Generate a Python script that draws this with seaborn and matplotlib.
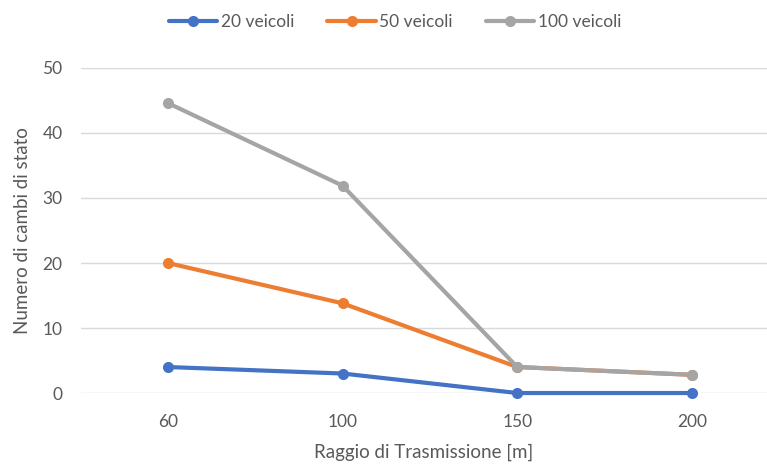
import matplotlib
matplotlib.use("Agg")
import matplotlib.pyplot as plt
import seaborn as sns
import pandas as pd

categories = ["60", "100", "150", "200"]
series_names = ["20 veicoli", "50 veicoli", "100 veicoli"]
v20 = [4.0, 3.0, 0.0, 0.0]
v50 = [20.0, 13.8, 4.0, 2.8]
v100 = [44.6, 31.9, 4.0, 2.8]
colors = ["#4472C4", "#ED7D31", "#A5A5A5"]

sns.set_theme(style="white")
plt.rcParams['font.family'] = ['Lato', 'DejaVu Sans']

rows = []
for name, vals in zip(series_names, [v20, v50, v100]):
    for c, v in zip(categories, vals):
        rows.append({"x": c, "y": v, "serie": name})
df = pd.DataFrame(rows)

fig = plt.figure(figsize=(7.67, 4.65), dpi=100)
ax = fig.add_axes([0.105, 0.1548, 0.895, 0.699])

sns.lineplot(data=df, x="x", y="y", hue="serie", hue_order=series_names,
             palette=colors, marker="o", markersize=8, markeredgewidth=0,
             linewidth=3, ax=ax, sort=False, clip_on=False)

ax.set_ylim(0, 50)
ax.set_yticks([0, 10, 20, 30, 40, 50])
ax.set_xlim(-0.5, 3.43)
ax.grid(axis="y", color="#D9D9D9", linewidth=1)
ax.set_axisbelow(True)
for s in ax.spines.values():
    s.set_visible(False)
ax.tick_params(axis="both", length=0, labelsize=12.5, labelcolor="#595959")
ax.tick_params(axis="y", pad=13)
ax.tick_params(axis="x", pad=15)
ax.set_xlabel("Raggio di Trasmissione [m]", fontsize=13.5, color="#595959", labelpad=10)
ax.set_ylabel("Numero di cambi di stato", fontsize=13.5, color="#595959", labelpad=8)

handles, labels = ax.get_legend_handles_labels()
ax.legend(handles, labels, loc="center", bbox_to_anchor=(395/767, 1 - 22/465),
          bbox_transform=fig.transFigure, ncol=3, frameon=False,
          fontsize=12.5, labelcolor="#595959", handlelength=2.8,
          handletextpad=0.2, columnspacing=1.9)

fig.savefig("out.png", dpi=100)
